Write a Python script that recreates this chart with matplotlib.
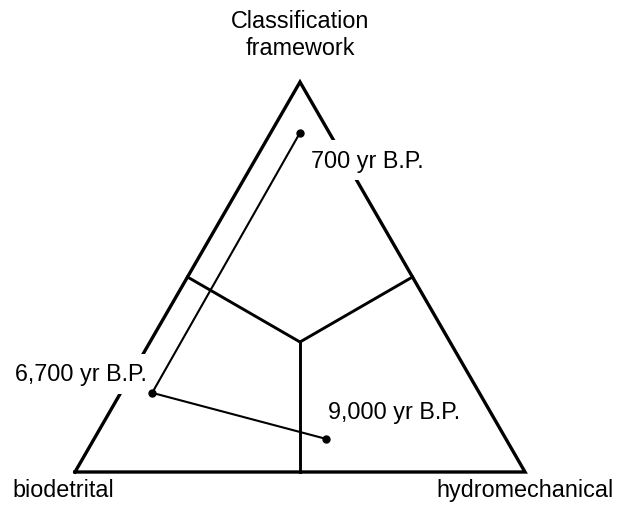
import numpy as np
import matplotlib.pyplot as plt

# ternary data: (classification framework, biodetrital, hydromechanical) fractions
ages = ["700 yr B.P.", "6,700 yr B.P.", "9,000 yr B.P."]
frac_top = [0.87, 0.203, 0.085]
frac_left = [0.065, 0.727, 0.40]
frac_right = [0.065, 0.070, 0.515]

corner_labels = ["Classification\nframework", "biodetrital", "hydromechanical"]

H = np.sqrt(3) / 2


def to_xy(a, b, c):
    """ternary (top, left, right) -> cartesian in unit equilateral triangle"""
    s = a + b + c
    a, c = a / s, c / s
    return c + a / 2, a * H


plt.rcParams['font.family'] = ['Liberation Sans', 'DejaVu Sans']
fig = plt.figure(figsize=(6.2, 5.06), dpi=100)
ax = fig.add_axes([75 / 620, 33 / 506, 450 / 620, 390 / 506])
ax.set_xlim(0, 1)
ax.set_ylim(0, H)
ax.axis('off')

# triangle outline
tri_x = [0, 0.5, 1, 0]
tri_y = [0, H, 0, 0]
ax.plot(tri_x, tri_y, color='black', lw=2.4, solid_joinstyle='miter', clip_on=False, zorder=1)

# division lines from centre to edge midpoints
cx, cy = to_xy(1 / 3, 1 / 3, 1 / 3)
for a, b, c in [(0.5, 0.5, 0), (0.5, 0, 0.5), (0, 0.5, 0.5)]:
    mx, my = to_xy(a, b, c)
    ax.plot([cx, mx], [cy, my], color='black', lw=2.1, clip_on=False, zorder=1)

# path through time
px, py = to_xy(np.array(frac_top), np.array(frac_left), np.array(frac_right))
ax.plot(px, py, color='black', lw=1.5, zorder=3)
ax.plot(px, py, 'o', color='black', ms=5, zorder=4)

# labels for each sample (white box breaks the triangle edge like the original)
box = dict(facecolor='white', edgecolor='none', pad=6)
fs = 16.8
ax.text(0.524, 0.678, ages[0], fontsize=fs, ha='left', va='baseline', bbox=box, zorder=2)
ax.text(-0.133, 0.204, ages[1], fontsize=fs, ha='left', va='baseline', bbox=box, zorder=2)
ax.text(0.562, 0.12, ages[2], fontsize=fs, ha='left', va='baseline', bbox=box, zorder=2)

ax.text(0.5, 0.973, corner_labels[0], fontsize=fs, ha='center', va='center', linespacing=1.25)
ax.text(-0.138, -0.053, corner_labels[1], fontsize=fs, ha='left', va='baseline')
ax.text(0.802, -0.053, corner_labels[2], fontsize=fs, ha='left', va='baseline')

fig.savefig('out.png', dpi=100)
